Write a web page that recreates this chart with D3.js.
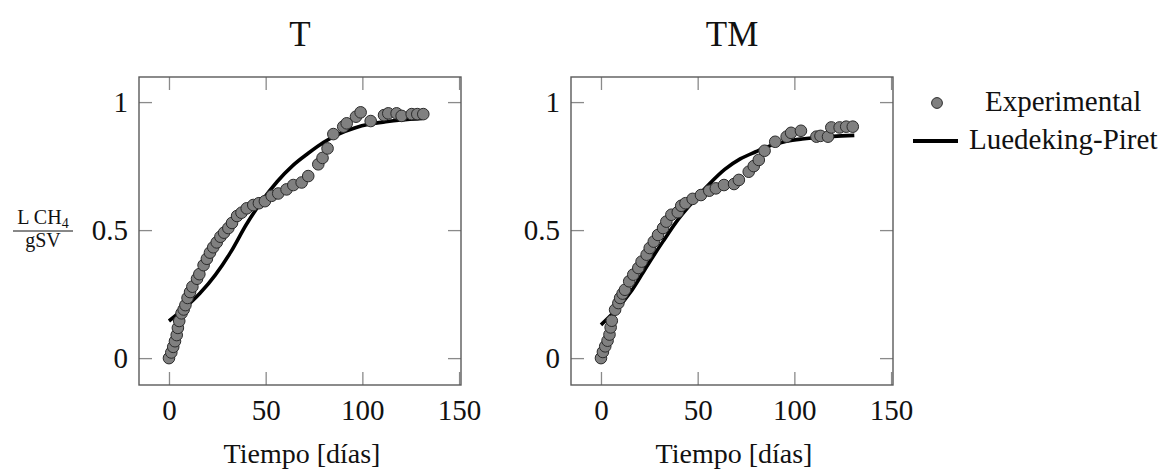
<!DOCTYPE html>
<html>
<head>
<meta charset="utf-8">
<script src="https://cdn.jsdelivr.net/npm/d3@7"></script>
<style>
  body { margin: 0; background: #fff; }
  svg text { font-family: 'Liberation Serif', serif; fill: #111; }
</style>
</head>
<body>
<svg id="chart" width="1162" height="472"></svg>
<script>
// experimental points, T
const tDays = [0, 1.2, 2.2, 3.1, 4.0, 4.6, 5.3, 6.5, 7.6, 8.5, 9.6, 10.9, 12.1, 14.5, 15.7, 17.9, 19.6, 21.2, 22.9, 24.7,
  26.6, 28.5, 30.7, 32.6, 35.2, 37.5, 40.2, 43.6, 46.5, 49.6, 53.1, 56.5, 60.8, 64.3, 68.6, 72, 77.2, 79.4,
  82, 85, 90.1, 91.9, 96.7, 99.1, 104.3, 111.2, 113.4, 117.7, 120.3, 125.5, 128.4, 131.5]
const tValues = [0, 0.022, 0.044, 0.066, 0.09, 0.118, 0.145, 0.175, 0.19, 0.207, 0.235, 0.258, 0.279, 0.31, 0.328, 0.363,
  0.388, 0.412, 0.433, 0.452, 0.474, 0.49, 0.508, 0.528, 0.555, 0.568, 0.585, 0.598, 0.605, 0.613, 0.634,
  0.643, 0.659, 0.676, 0.686, 0.711, 0.757, 0.782, 0.819, 0.875, 0.904, 0.917, 0.943, 0.96, 0.926, 0.949,
  0.956, 0.956, 0.946, 0.953, 0.953, 0.953]

// experimental points, TM
const tmDays = [0, 1, 2.2, 3.4, 4.4, 5.0, 5.6, 7.3, 9, 9.9, 11.2, 12.4, 14.6, 16.7, 19.3, 21, 23.6, 25.2, 27.3, 29.5,
  32.1, 33.8, 36.4, 39.7, 41.5, 43.7, 47.4, 51.7, 56, 59.4, 63.6, 68.8, 71.3, 76.4, 79, 81.6, 84.6, 90.1,
  96, 98.3, 103.4, 111.4, 113.5, 117.4, 119.1, 123.4, 126.8, 130.2]
const tmValues = [0, 0.024, 0.046, 0.068, 0.092, 0.12, 0.146, 0.189, 0.215, 0.235, 0.252, 0.267, 0.3, 0.326, 0.352,
  0.377, 0.404, 0.43, 0.455, 0.481, 0.508, 0.533, 0.56, 0.57, 0.595, 0.605, 0.622, 0.637, 0.654, 0.663,
  0.676, 0.68, 0.696, 0.728, 0.75, 0.774, 0.81, 0.845, 0.865, 0.88, 0.888, 0.865, 0.868, 0.865, 0.901,
  0.901, 0.904, 0.904]

// Luedeking-Piret fit
const fitDays = [0, 8, 16, 24, 32, 40, 48, 56, 64, 72, 80, 88, 96, 104, 112, 120, 131]
const tFit = [0.145, 0.195, 0.253, 0.325, 0.415, 0.522, 0.613, 0.69, 0.752, 0.8, 0.843, 0.876, 0.899, 0.914,
  0.923, 0.93, 0.936]
const tmFit = [0.13, 0.19, 0.265, 0.362, 0.455, 0.543, 0.615, 0.68, 0.737, 0.778, 0.806, 0.831, 0.847,
  0.856, 0.862, 0.866, 0.87]

const titles = ['T', 'TM']
const xTicks = [0, 50, 100, 150]
const yTicks = [0, 0.5, 1]

const svg = d3.select('#chart')
const width = 322,
      height = 308,
      plotTop = 77,
      lefts = [139, 571]

const panels = [
  {title: titles[0], days: tDays, vals: tValues, fit: tFit},
  {title: titles[1], days: tmDays, vals: tmValues, fit: tmFit}
]

panels.forEach((p, i) => {
  const g = svg.append('g')
    .attr('transform', `translate(${lefts[i]}, ${plotTop})`)

  const xScale = d3.scaleLinear().domain([-15.5, 151]).range([0, width])
  const yScale = d3.scaleLinear().domain([-0.105, 1.098]).range([height, 0])

  const tickStyle = sel => {
    sel.select('.domain').remove()
    sel.selectAll('.tick line').attr('stroke', '#8a8a8a').attr('stroke-width', 1.3)
    sel.selectAll('.tick text').attr('font-size', 29).attr('font-family', "'Liberation Serif', serif").attr('fill', '#111')
  }

  g.append('g')
    .attr('transform', `translate(0, ${height})`)
    .call(d3.axisBottom(xScale).tickValues(xTicks).tickSize(-13).tickPadding(14))
    .call(tickStyle)
  g.append('g')
    .call(d3.axisTop(xScale).tickValues(xTicks).tickSize(-13).tickFormat(''))
    .call(tickStyle)
  g.append('g')
    .call(d3.axisLeft(yScale).tickValues(yTicks).tickSize(-13).tickPadding(11).tickFormat(d3.format('')))
    .call(tickStyle)
  g.append('g')
    .attr('transform', `translate(${width}, 0)`)
    .call(d3.axisRight(yScale).tickValues(yTicks).tickSize(-13).tickFormat(''))
    .call(tickStyle)

  g.append('rect')
    .attr('width', width)
    .attr('height', height)
    .attr('fill', 'none')
    .attr('stroke', '#5a5a5a')
    .attr('stroke-width', 1.4)

  const line = d3.line()
    .x((d, j) => xScale(fitDays[j]))
    .y(d => yScale(d))
    .curve(d3.curveMonotoneX)

  g.append('path')
    .datum(p.fit)
    .attr('fill', 'none')
    .attr('stroke', '#000')
    .attr('stroke-width', 3.6)
    .attr('d', line)

  g.selectAll('circle.pt')
    .data(p.days)
    .join('circle')
    .attr('class', 'pt')
    .attr('cx', d => xScale(d))
    .attr('cy', (d, j) => yScale(p.vals[j]))
    .attr('r', 5.8)
    .attr('fill', '#808080')
    .attr('stroke', '#2b2b2b')
    .attr('stroke-width', 1)

  svg.append('text')
    .attr('x', lefts[i] + width / 2)
    .attr('y', 46)
    .attr('text-anchor', 'middle')
    .attr('font-size', 35)
    .text(p.title)

  svg.append('text')
    .attr('x', lefts[i] + width / 2 + 2)
    .attr('y', 463)
    .attr('text-anchor', 'middle')
    .attr('font-size', 28)
    .text('Tiempo [días]')
})

// y label as a fraction
const yl = svg.append('g')
const num = yl.append('text')
  .attr('x', 43).attr('y', 224)
  .attr('text-anchor', 'middle')
  .attr('font-size', 20)
num.append('tspan').text('L CH')
num.append('tspan').attr('dy', 4).attr('font-size', 14).text('4')
yl.append('line')
  .attr('x1', 13).attr('x2', 73)
  .attr('y1', 231).attr('y2', 231)
  .attr('stroke', '#111').attr('stroke-width', 1)
yl.append('text')
  .attr('x', 43).attr('y', 247)
  .attr('text-anchor', 'middle')
  .attr('font-size', 20)
  .text('gSV')

// legend
const lg = svg.append('g')
lg.append('circle')
  .attr('cx', 937).attr('cy', 103).attr('r', 5.4)
  .attr('fill', '#808080').attr('stroke', '#2b2b2b').attr('stroke-width', 1)
lg.append('text')
  .attr('x', 985).attr('y', 111)
  .attr('font-size', 29)
  .text('Experimental')
lg.append('line')
  .attr('x1', 913).attr('x2', 958)
  .attr('y1', 141).attr('y2', 141)
  .attr('stroke', '#000').attr('stroke-width', 4)
lg.append('text')
  .attr('x', 969).attr('y', 149)
  .attr('font-size', 29)
  .text('Luedeking-Piret')
</script>
</body>
</html>
